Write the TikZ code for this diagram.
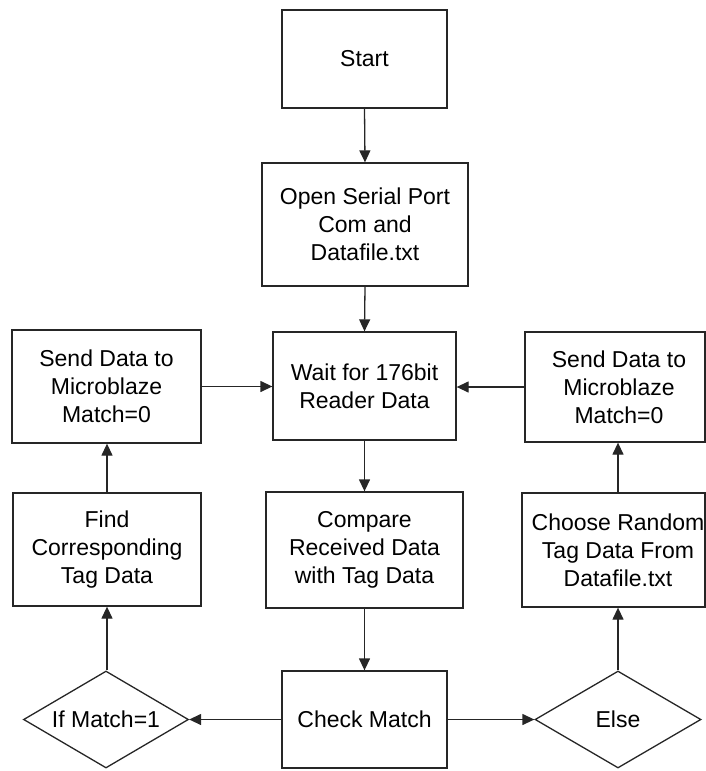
\documentclass[tikz,border=0pt]{standalone}
\usepackage{fontspec}
\setmainfont{Liberation Sans}
\usetikzlibrary{arrows.meta,shapes.geometric}
\tikzset{
  box/.style={draw=black!85, line width=1.3pt, rectangle, inner sep=0pt, align=center},
  decision/.style={draw=black!85, line width=1.3pt, diamond, aspect=1.7, inner sep=0pt, align=center},
  label text/.style={inner sep=0pt, align=center},
  flow/.style={draw=black!85, line width=1.3pt, -{Triangle[length=12pt,width=11pt]}},
}
\begin{document}
\begin{tikzpicture}[x=1pt,y=-1pt,font=\fontsize{23}{28}\selectfont]
\useasboundingbox (0,0) rectangle (706,771);
% centre column
\node[box, minimum width=165pt, minimum height=98pt] (start) at (364.5,59) {Start};
\node[box, minimum width=206pt, minimum height=123pt] (open) at (365,224.5) {Open Serial Port\\Com and\\Datafile.txt};
\node[box, minimum width=183pt, minimum height=108pt] (wait) at (364.5,386) {Wait for 176bit\\Reader Data};
\node[box, minimum width=197pt, minimum height=116pt] (cmp) at (364.5,550) {Compare\\Received Data\\with Tag Data};
\node[box, minimum width=165pt, minimum height=97pt] (check) at (364.5,719.5) {Check Match};
% left column
\node[box, minimum width=189pt, minimum height=113pt] (sendL) at (106.5,386.5) {Send Data to\\Microblaze\\Match=0};
\node[box, minimum width=188pt, minimum height=113pt] (find) at (107,549.5) {Find\\Corresponding\\Tag Data};
\node[decision, minimum width=165pt, minimum height=97pt] (ifm) at (106,719.5) {If Match=1};
% right column
\node[box, minimum width=180pt, minimum height=110pt] (sendR) at (615,387) {};
\node[label text] (sendRtext) at (619,387) {Send Data to\\Microblaze\\Match=0};
\node[box, minimum width=183pt, minimum height=114pt] (choose) at (613.5,550) {};
\node[label text] (choosetext) at (618,550) {Choose Random\\Tag Data From\\Datafile.txt};
\node[decision, minimum width=166pt, minimum height=97pt] (else) at (618,719.5) {Else};
% connectors
\draw[flow] (start.south) -- (open.north);
\draw[flow] (open.south) -- (wait.north);
\draw[flow] (wait.south) -- (cmp.north);
\draw[flow] (cmp.south) -- (check.north);
\draw[flow] (sendL.east) -- (sendL.east -| wait.west);
\draw[flow] (sendR.west) -- (sendR.west -| wait.east);
\draw[flow] (check.west) -- (ifm.east);
\draw[flow] (check.east) -- (else.west);
\draw[flow] (ifm.north -| find.south) -- (find.south);
\draw[flow] (find.north) -- (sendL.south -| find.north);
\draw[flow] (else.north) -- (else.north |- choose.south);
\draw[flow] (choose.north -| else.north) -- (sendR.south -| else.north);
\end{tikzpicture}
\end{document}
